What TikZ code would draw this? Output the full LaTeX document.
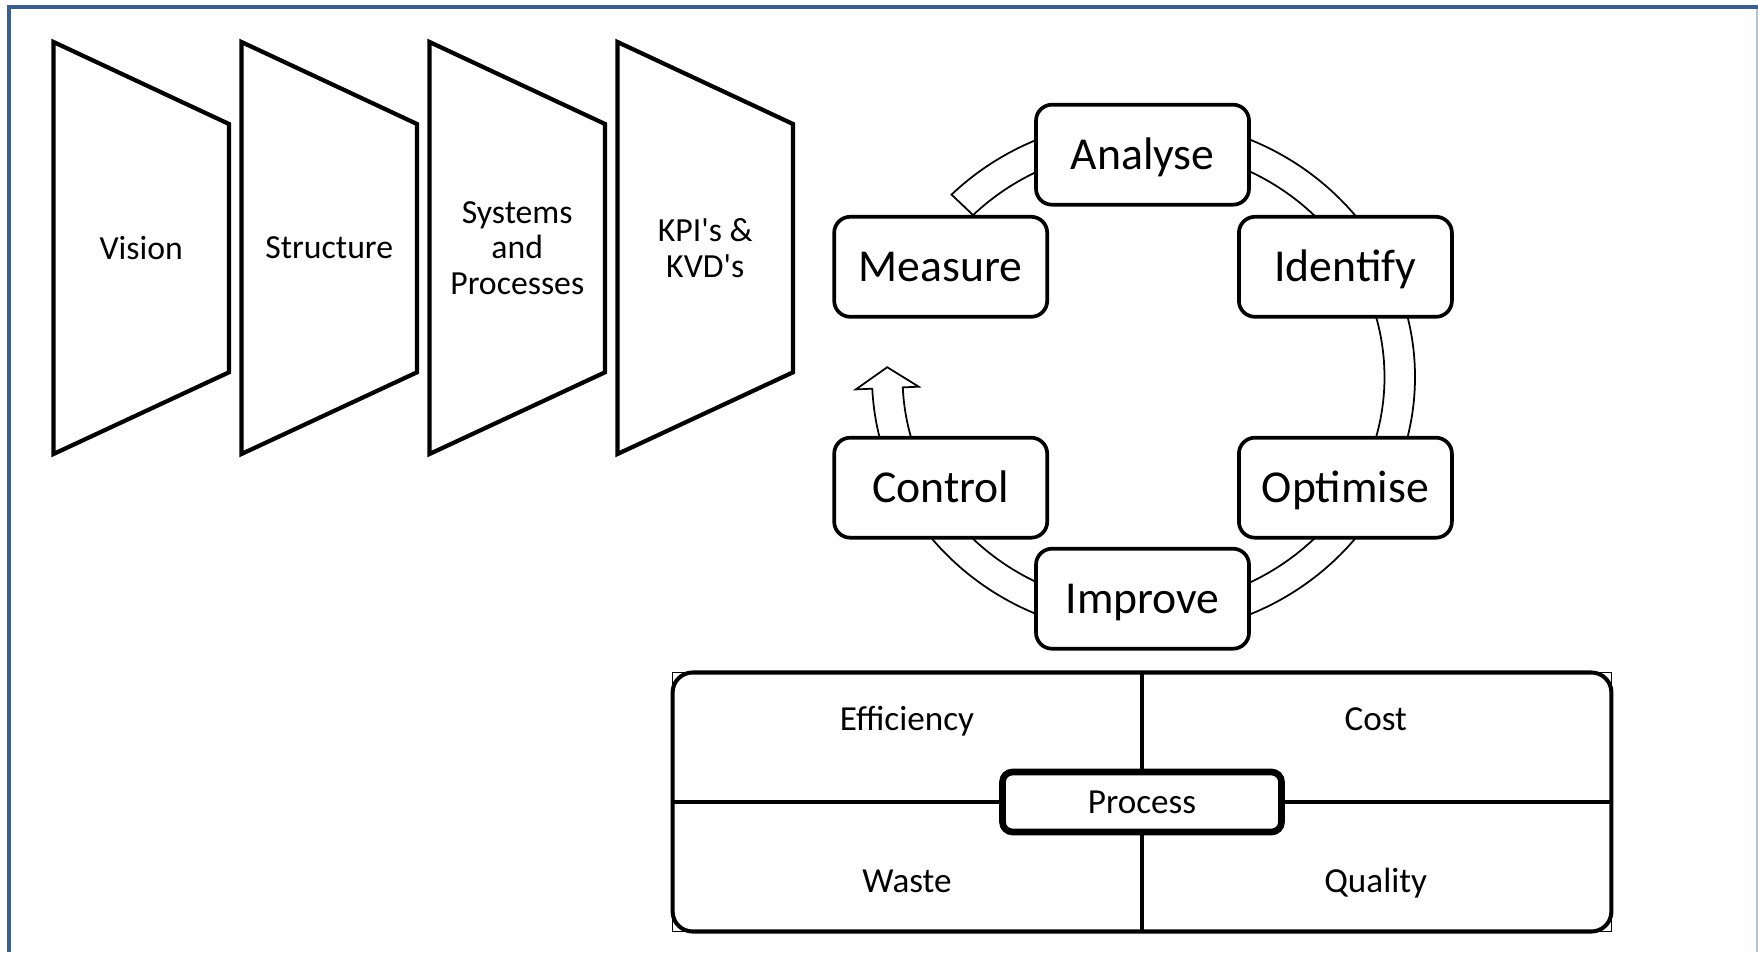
\documentclass[tikz,border=0pt]{standalone}
\usepackage{fontspec}
\setmainfont{Carlito}
\definecolor{frameblue}{RGB}{59,94,140}
\definecolor{framegrey}{RGB}{185,195,215}

\begin{document}
\begin{tikzpicture}[
    stage/.style={draw,line width=1.05pt,rounded corners=0.16cm,fill=white,
      minimum width=2.13cm,minimum height=1.0cm,inner sep=0pt,
      font=\fontsize{13}{15.6}\selectfont,text height=10pt,text depth=1.6pt},
    pillar/.style={draw,line width=1.2pt,line join=miter},
    pillartext/.style={align=center,font=\fontsize{9.6}{10.1}\selectfont},
    ring/.style={draw,line width=0.5pt,fill=white},
    quad/.style={anchor=base,font=\fontsize{10}{12}\selectfont}
  ]
  \useasboundingbox (0,0) rectangle (17.58,9.52);
  % page frame
  \draw[frameblue,line width=1.15pt,line join=miter] (0.09,0) -- (0.09,9.45) -- (17.58,9.45);
  \draw[framegrey,line width=0.4pt] (17.57,9.43) -- (17.57,0);

  % four pillars
  \foreach \x/\nm/\txt in {0.535/vis/Vision,2.415/str/Structure,4.295/sys/{Systems\\and\\Processes},6.175/kpi/{KPI\textquotesingle s \&\\KVD\textquotesingle s}}{
    \draw[pillar] (\x,9.10) -- ({\x+1.755},8.28) -- ({\x+1.755},5.797) -- (\x,4.98) -- cycle;
    \node[pillartext] (\nm) at ({\x+0.8775},7.04) {\txt};
  }

  % cycle arrow behind the stages
  \begin{scope}[shift={(11.435,5.75)},yscale=0.95]
    \draw[ring] (135:2.715) arc[start angle=135,end angle=-177.4,radius=2.715]
      -- (-177.4:2.88) -- (177.7:2.565) -- (-177.4:2.25)
      -- (-177.4:2.41) arc[start angle=-177.4,end angle=135,radius=2.41] -- cycle;
  \end{scope}

  \node[stage] (ana) at (11.425,7.973) {Analyse};
  \node[stage] (ide) at (13.454,6.852) {Identify};
  \node[stage] (opt) at (13.454,4.643) {Optimise};
  \node[stage] (imp) at (11.425,3.533) {Improve};
  \node[stage] (con) at (9.407,4.643) {Control};
  \node[stage] (mea) at (9.407,6.852) {Measure};

  % process matrix
  \node[draw,line width=1.15pt,rounded corners=0.2cm,fill=white,outer sep=0pt,
    minimum width=9.388cm,minimum height=2.59cm,inner sep=0pt] (mat) at (11.42,1.50) {};
  \draw[line width=0.3pt] (mat.south west) rectangle (mat.north east);
  \draw[line width=0.9pt] (mat.north) -- (mat.south);
  \draw[line width=0.9pt] (mat.west) -- (mat.east);
  \node[draw,line width=1.9pt,rounded corners=0.1cm,fill=white,inner sep=0pt,
    minimum width=2.79cm,minimum height=0.6cm,font=\fontsize{10}{12}\selectfont] (proc) at (mat.center) {Process};

  \node[quad] (eff) at (9.07,2.213) {Efficiency};
  \node[quad] (cst) at (13.757,2.213) {Cost};
  \node[quad] (wst) at (9.07,0.593) {Waste};
  \node[quad] (qty) at (13.757,0.593) {Quality};
\end{tikzpicture}
\end{document}
